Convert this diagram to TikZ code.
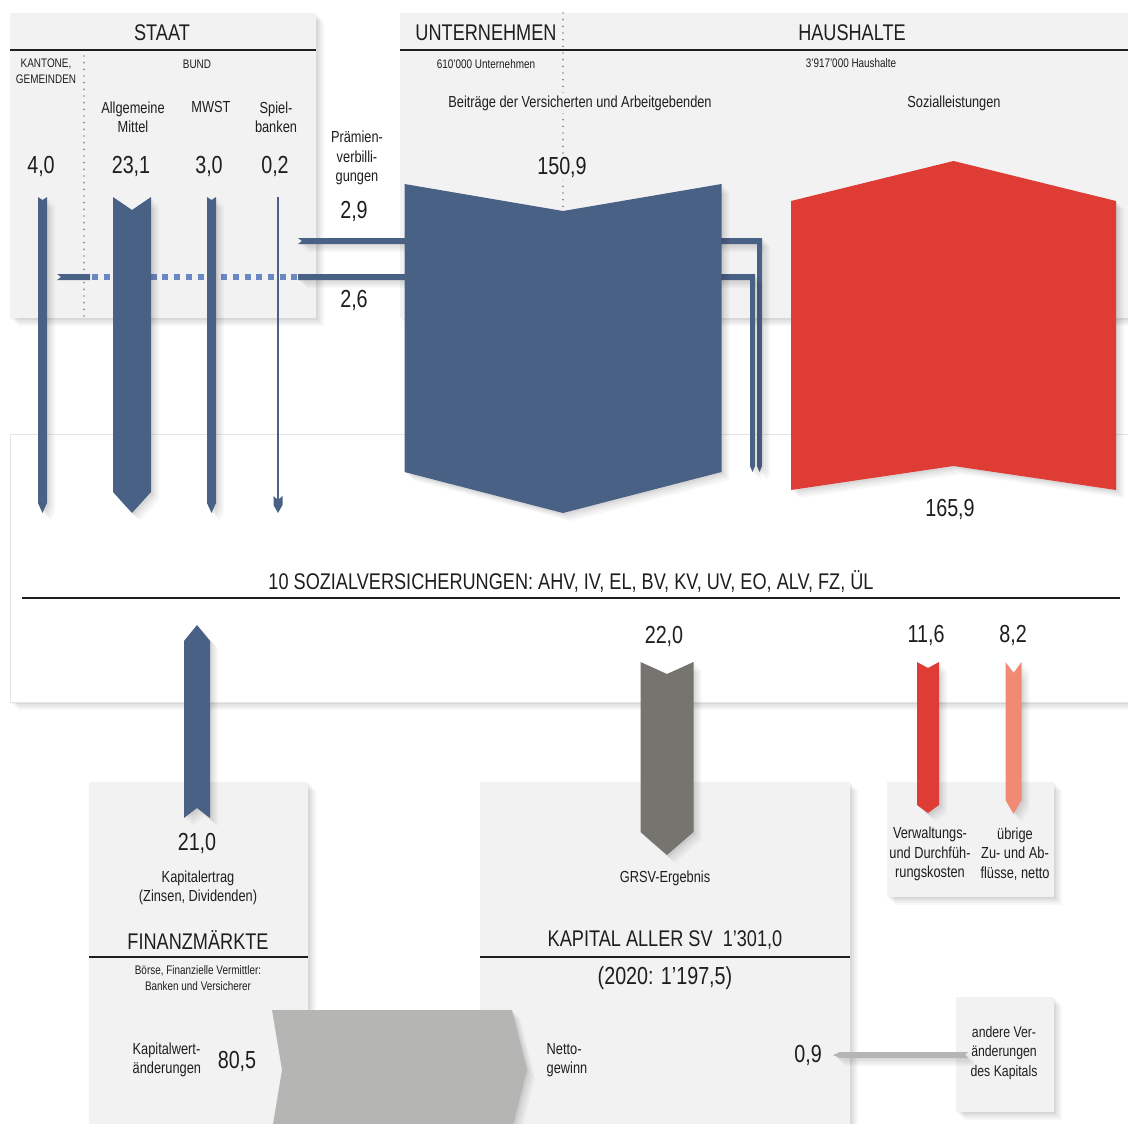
\documentclass[tikz,border=0pt]{standalone}
\usepackage{fontspec}
\setmainfont{Liberation Sans}[FakeStretch=0.8]

\definecolor{flowblue}{HTML}{4A6186}
\definecolor{flowdash}{HTML}{6C88C2}
\definecolor{flowred}{HTML}{E03C36}
\definecolor{flowrose}{HTML}{F08A73}
\definecolor{flowgrey}{HTML}{75746F}
\definecolor{flowsilver}{HTML}{B5B5B4}
\definecolor{boxfill}{HTML}{F2F2F2}
\definecolor{ink}{HTML}{1E1E1E}

% color, x, half width, top, notch, bottom, tip
\newcommand{\downflow}[7]{%
    \fill[#1, softshadow] (#2-#3,#4) -- (#2,#4+#5) -- (#2+#3,#4)
        -- (#2+#3,#6-#7) -- (#2,#6) -- (#2-#3,#6-#7) -- cycle;}
% color, x, half width, tip, tip length, bottom, notch
\newcommand{\upflow}[7]{%
    \fill[#1, softshadow] (#2,#4) -- (#2+#3,#4+#5) -- (#2+#3,#6)
        -- (#2,#6-#7) -- (#2-#3,#6) -- (#2-#3,#4+#5) -- cycle;}

\begin{document}
\begin{tikzpicture}[x=0.75pt, y=-0.75pt,
        softshadow/.style={
            preaction={fill=black, opacity=0.03, transform canvas={shift={(6pt,-6pt)}}},
            preaction={fill=black, opacity=0.035, transform canvas={shift={(4.5pt,-4.5pt)}}},
            preaction={fill=black, opacity=0.04, transform canvas={shift={(3pt,-3pt)}}},
            preaction={fill=black, opacity=0.05, transform canvas={shift={(1.5pt,-1.5pt)}}}},
        panel/.style={fill=boxfill, softshadow},
        rule/.style={draw=ink, line width=1.1pt},
        dotline/.style={draw=black!45, line width=1.4pt, line cap=round, dash pattern=on 0pt off 5pt},
        title/.style={text=ink, font=\fontsize{17}{20}\selectfont},
        value/.style={text=ink, font=\fontsize{18.5}{22}\selectfont},
        label/.style={text=ink, align=center, font=\fontsize{12}{14.5}\selectfont},
        note/.style={text=ink, align=center, font=\fontsize{9.3}{11.6}\selectfont}]

        \clip (0,0) rectangle (1128,1124);
        \fill[white] (0,0) rectangle (1128,1124);

        % panels
        \fill[panel] (10,13) rectangle (316,318);
        \fill[panel] (400,13) rectangle (1140,318);
        \filldraw[fill=white, draw=black!10, softshadow] (10,434) rectangle (1140,702);
        \fill[panel] (89,782) rectangle (308,1140);
        \fill[panel] (480,782) rectangle (850,1140);
        \fill[panel] (887,782) rectangle (1054,897);
        \fill[panel] (956,997) rectangle (1054,1112);

        \draw[rule] (10,50) -- (316,50);
        \draw[rule] (400,50) -- (1128,50);
        \draw[rule] (22,598) -- (1120,598);
        \draw[rule] (89,957) -- (308,957);
        \draw[rule] (480,957) -- (850,957);

        \draw[dotline] (84,56) -- (84,318);
        \draw[dotline] (563,13) -- (563,210);

        % texts top
        \node[title] (staat) at (162,33) {STAAT};
        \node[title] (unternehmen) at (486,33) {UNTERNEHMEN};
        \node[title] (haushalte) at (852,33) {HAUSHALTE};
        \node[note] (kantone) at (46,71) {KANTONE,\\GEMEINDEN};
        \node[note] (bund) at (197,64) {BUND};
        \node[note] (firmen) at (486,64) {610’000 Unternehmen};
        \node[note] (haushaltzahl) at (851,63) {3’917’000 Haushalte};
        \node[label] (allgemein) at (133,117) {Allgemeine\\Mittel};
        \node[label] (mwst) at (211,107) {MWST};
        \node[label] (spiel) at (276,117) {Spiel-\\banken};
        \node[label] (praemien) at (357,158) {Prämien-\\verbilli-\\gungen};
        \node[label, fill=boxfill, inner sep=2pt] (beitraege) at (580,103) {Beiträge der Versicherten und Arbeitgebenden};
        \node[label] (sozleist) at (954,103) {Sozialleistungen};

        \node[value] (vkantone) at (41,166) {4,0};
        \node[value] (vallgemein) at (131,166) {23,1};
        \node[value] (vmwst) at (209,166) {3,0};
        \node[value] (vspiel) at (275,166) {0,2};
        \node[value, fill=boxfill, inner sep=2pt] (vbeitraege) at (562,167) {150,9};
        \node[value] (vpraemien) at (354,211) {2,9};
        \node[value] (vzwei) at (354,300) {2,6};
        \node[value] (vsozleist) at (950,509) {165,9};

        % #######################################

        % Praemienverbilligungen
        \fill[flowblue, softshadow] (298,238) -- (762,238) -- (762,466) -- (759.5,472) -- (757,466)
            -- (757,244) -- (298,244) -- (302,241) -- cycle;
        \fill[flowblue, softshadow] (298,274) -- (755,274) -- (755,466) -- (752.5,472) -- (750,466)
            -- (750,280) -- (298,280) -- cycle;
        \draw[flowdash, line width=4.5pt, dash pattern=on 4.5pt off 4.3pt] (92,277) -- (297,277);
        \fill[flowblue] (57,274) -- (90,274) -- (90,280) -- (57,280) -- (61,277) -- cycle;

        % Staat
        \downflow{flowblue}{42.5}{4.5}{197}{3}{513}{10}
        \downflow{flowblue}{211.5}{4.5}{197}{3}{513}{10}
        \draw[flowblue, line width=1.1pt] (278,197) -- (278,500);
        \fill[flowblue] (273.5,496) -- (278,500) -- (282.5,496) -- (282.5,505) -- (278,513) -- (273.5,505) -- cycle;
        \downflow{flowblue}{132}{19}{197}{13}{513}{21}

        % Beitraege und Sozialleistungen
        \downflow{flowblue}{563}{158.5}{184}{27}{513}{41}
        \upflow{flowred}{953.5}{162.5}{161}{40}{490}{24}

        % #######################################

        \node[title] (sv) at (571,581) {10 SOZIALVERSICHERUNGEN: AHV, IV, EL, BV, KV, UV, EO, ALV, FZ, ÜL};
        \node[value] (vgrsv) at (664,636) {22,0};
        \node[value] (vverwaltung) at (926,635) {11,6};
        \node[value] (vuebrige) at (1013,635) {8,2};

        \upflow{flowblue}{197}{13}{625}{16}{818}{10}
        \downflow{flowgrey}{667}{26.5}{662}{12}{855}{23}
        \downflow{flowred}{928}{11}{662}{6}{813}{8}
        \downflow{flowrose}{1013.5}{8}{662}{11}{814}{14}

        % Kapitalwertaenderungen
        \fill[flowsilver, softshadow] (272,1010) -- (512,1010) -- (527,1070) -- (512,1130)
            -- (272,1130) -- (282,1070) -- cycle;
        \fill[flowsilver, softshadow] (833,1055) -- (840,1052) -- (968,1052) -- (965,1055)
            -- (968,1058) -- (840,1058) -- cycle;

        % texts bottom
        \node[value] (vertrag) at (197,843) {21,0};
        \node[label] (ertrag) at (198,888) {Kapitalertrag\\(Zinsen, Dividenden)};
        \node[title] (finanz) at (198,940) {FINANZMÄRKTE};
        \node[note] (boerse) at (198,978) {Börse, Finanzielle Vermittler:\\Banken und Versicherer};
        \node[label, align=left, anchor=west] (wert) at (128,1060) {Kapitalwert-\\änderungen};
        \node[value] (vwert) at (237,1061) {80,5};
        \node[label] (grsv) at (665,878) {GRSV-Ergebnis};
        \node[title] (kapital) at (665,940) {KAPITAL ALLER SV\ \ 1’301,0};
        \node[value] (vorjahr) at (665,978) {(2020: 1’197,5)};
        \node[label, align=left, anchor=west] (netto) at (542,1060) {Netto-\\gewinn};
        \node[value] (vandere) at (808,1055) {0,9};
        \node[label] (verwaltung) at (930,854) {Verwaltungs-\\und Durchfüh-\\rungskosten};
        \node[label] (uebrige) at (1015,854) {übrige\\Zu- und Ab-\\flüsse, netto};
        \node[label, font=\fontsize{11.5}{14.3}\selectfont] (andere) at (1004,1053) {andere Ver-\\änderungen\\des Kapitals};

    \end{tikzpicture}
\end{document}
